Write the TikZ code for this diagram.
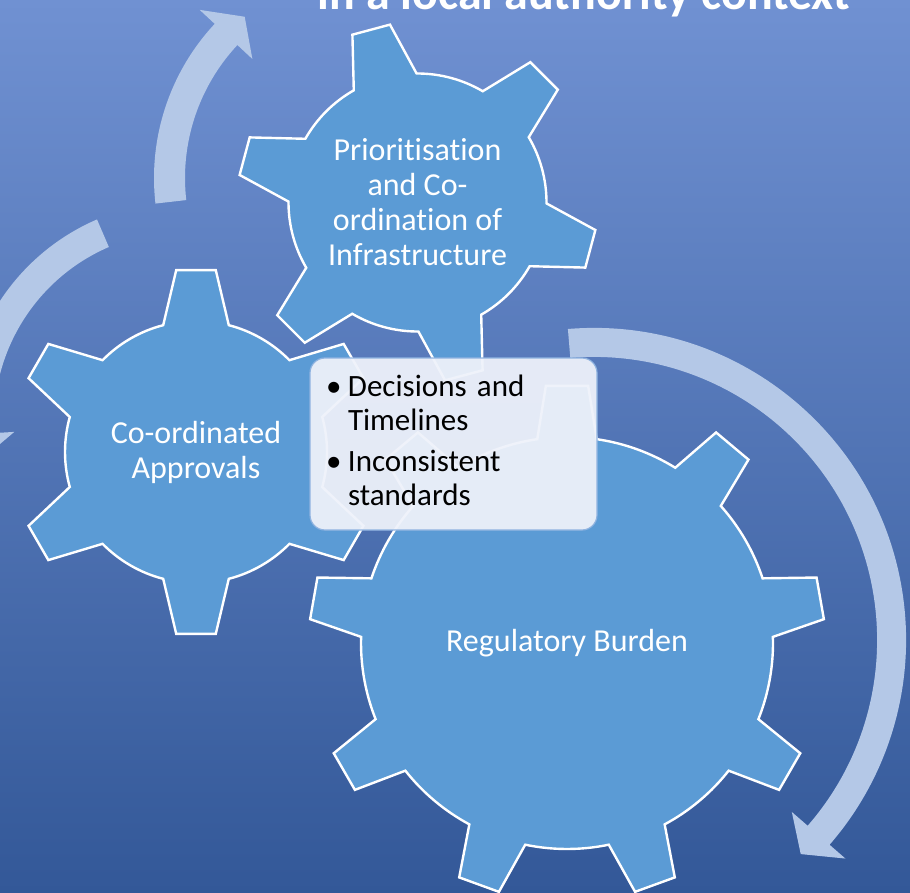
\documentclass[tikz,border=0pt]{standalone}
\usepackage{fontspec}
\setmainfont{Carlito}[Ligatures=NoCommon]
\usetikzlibrary{calc}

\definecolor{bgtop}{RGB}{112,145,210}
\definecolor{bgmid}{RGB}{73,116,196}
\definecolor{bgbot}{RGB}{51,88,152}
\definecolor{gearblue}{RGB}{91,155,213}
\definecolor{turnblue}{RGB}{180,200,231}
\definecolor{boxfill}{RGB}{238,242,250}
\definecolor{boxline}{RGB}{143,179,224}

\begin{document}
\begin{tikzpicture}[x=1pt,y=1pt,inner sep=2pt,
    gear/.style={draw=white,line width=2.4pt,fill=gearblue},
    turn/.style={fill=turnblue},
    gtext/.style={text=white,align=center,font=\fontsize{32}{35}\selectfont},
    title/.style={text=white,font=\bfseries\fontsize{48}{58}\selectfont},
    issues/.style={draw=boxline,line width=1.2pt,fill=boxfill,fill opacity=.94,
        text opacity=1,rounded corners=15pt,text width=247pt,inner xsep=20pt,
        minimum height=172pt,align=left,font=\fontsize{31}{34}\selectfont}]
    \useasboundingbox (0,0) rectangle (910,-893);
    \clip (0,0) rectangle (910,-893);
    \shade[top color=bgtop,middle color=bgmid,bottom color=bgbot]
        (0,0) rectangle (910,-893);

    \node [title,anchor=base] (Title) at (584,-10) {in a local authority context};

    \coordinate (G1) at (417.5,-202.5);
    \coordinate (G2) at (196,-452);
    \coordinate (G3) at (567,-643);
    \coordinate (A1) at (380,-178);
    \coordinate (A2) at (184,-421.5);
    \coordinate (A3) at (594,-640);

    % turning arrows
    \fill [turn] ($ (A1) + (186.5:226) $) arc [start angle=186.5,end angle=137,radius=226]
        -- ($ (A1) + (137:246.5) $) -- ($ (A1) + (130:210.5) $)
        -- ($ (A1) + (137:174.5) $) -- ($ (A1) + (137:195) $)
        arc [start angle=137,end angle=186.5,radius=195] -- cycle;
    \fill [turn] ($ (A2) + (113.3:220) $) arc [start angle=113.3,end angle=183.5,radius=220]
        -- ($ (A2) + (183.5:240) $) -- ($ (A2) + (190.5:205) $)
        -- ($ (A2) + (183.5:170) $) -- ($ (A2) + (183.5:190) $)
        arc [start angle=183.5,end angle=113.3,radius=190] -- cycle;
    \fill [turn] ($ (A3) + (94.8:312.1) $) arc [start angle=94.8,end angle=-41,radius=312.1]
        -- ($ (A3) + (-41:333.1) $) -- ($ (A3) + (-46:297.6) $)
        -- ($ (A3) + (-41:262.1) $) -- ($ (A3) + (-41:283.1) $)
        arc [start angle=-41,end angle=94.8,radius=283.1] -- cycle;

    % gears
    \draw [gear] ($ (G3) + ({10-8.3}:206) $)
        \foreach \k in {0,...,8} {
            -- ($ (G3) + ({10+40*\k-4.7}:258) $) -- ($ (G3) + ({10+40*\k+4.7}:258) $)
            -- ($ (G3) + ({10+40*\k+8.3}:206) $)
            arc [start angle={10+40*\k+8.3},end angle={50+40*\k-8.3},radius=206]
        } -- cycle;
    \draw [gear] ($ (G2) + ({30-14.5}:131) $)
        \foreach \k in {0,...,5} {
            -- ($ (G2) + ({30+60*\k-6.2}:183) $) -- ($ (G2) + ({30+60*\k+6.2}:183) $)
            -- ($ (G2) + ({30+60*\k+14.5}:131) $)
            arc [start angle={30+60*\k+14.5},end angle={90+60*\k-14.5},radius=131]
        } -- cycle;
    \draw [gear] ($ (G1) + ({45-14.6}:129) $)
        \foreach \k in {0,...,5} {
            -- ($ (G1) + ({45+60*\k-6.2}:180) $) -- ($ (G1) + ({45+60*\k+6.2}:180) $)
            -- ($ (G1) + ({45+60*\k+14.6}:129) $)
            arc [start angle={45+60*\k+14.6},end angle={105+60*\k-14.6},radius=129]
        } -- cycle;

    \node [gtext] (Prio) at (G1) {Prioritisation\\and Co-\\ordination of\\Infrastructure};
    \node [gtext] (Appr) at (G2) {Co-ordinated\\Approvals};
    \node [gtext] (Burd) at (G3) {Regulatory Burden};

    \node [issues] (Issues) at (453.5,-444) {%
        \begin{tabular}{@{}p{18pt}@{}l@{}}
        \hspace*{-4pt}\textbullet & Decisions and\\
                    & Timelines\\[7pt]
        \hspace*{-4pt}\textbullet & Inconsistent\\
                    & standards
        \end{tabular}};
\end{tikzpicture}
\end{document}
